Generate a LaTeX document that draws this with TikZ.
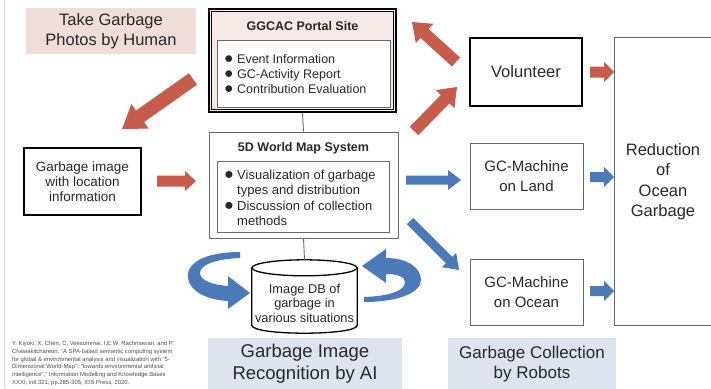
\documentclass[tikz,border=0pt]{standalone}
\usepackage{fontspec}
\setmainfont{Liberation Sans}
\usetikzlibrary{calc}
\definecolor{redarr}{RGB}{199,92,76}
\definecolor{bluearr}{RGB}{74,122,184}
\definecolor{pinkbg}{RGB}{238,221,217}
\definecolor{portalbg}{RGB}{244,233,231}
\definecolor{bluebg}{RGB}{221,228,240}
\definecolor{boxgray}{RGB}{105,105,105}
\definecolor{txt}{RGB}{40,40,40}
\newcommand\blockarrow[6]{%
  \coordinate (ba-c) at ($(#3)!#6!(#2)$);
  \fill[#1] ($(#2)!#4!90:(#3)$) -- ($(ba-c)!#4!90:(#3)$) -- ($(ba-c)!#5!90:(#3)$) -- (#3)
    -- ($(ba-c)!#5!-90:(#3)$) -- ($(ba-c)!#4!-90:(#3)$) -- ($(#2)!#4!-90:(#3)$) -- cycle;
}
\newcommand\bul{\makebox[13pt][l]{\raisebox{-0.4pt}{\scalebox{1.25}{●}}}}
\begin{document}
\begin{tikzpicture}[x=1pt,y=-1pt,
  every node/.style={inner sep=0pt, text=txt},
  plainbox/.style={draw=boxgray, line width=0.9pt, fill=white},
  blackbox/.style={draw=black, line width=2pt, fill=white},
  innerbox/.style={draw=boxgray, line width=0.8pt, fill=white},
  linkline/.style={draw=boxgray, line width=0.9pt},
  cyl/.style={draw=black, line width=1.3pt, fill=white},
  fbig/.style={font=\fontsize{16.5}{20}\selectfont},
  fmid/.style={font=\fontsize{15}{20.5}\selectfont},
  ftitle/.style={font=\bfseries\fontsize{12.5}{15}\selectfont}]
\useasboundingbox (0,0) rectangle (711,388);
\fill[white] (0,0) rectangle (711,388);
\draw[black!15, line width=0.8pt] (4,0) -- (4,388);

% top-left label
\node[fill=pinkbg, minimum width=170pt, minimum height=46pt, align=center, fbig] (take) at (111,31) {Take Garbage\\Photos by Human};

% portal
\node[draw=black, line width=2.2pt, fill=portalbg,
  minimum width=187pt, minimum height=103pt] (portal) at (302.5,60.5) {};
\draw[black, line width=0.8pt] ($(portal.north west)+(3.6,3.6)$) rectangle ($(portal.south east)+(-3.6,-3.6)$);
\node[ftitle] (portaltitle) at (302.5,26) {GGCAC Portal Site};
\node[innerbox, minimum width=173pt, minimum height=67pt] (portalin) at (303.5,73.5) {};
\node[anchor=west, align=left, font=\fontsize{12.5}{15}\selectfont] (portallist) at (224,74)
  {\bul Event Information\\\bul GC-Activity Report\\\bul Contribution Evaluation};

% 5D world map
\node[plainbox, minimum width=189pt, minimum height=106pt] (fived) at (303.5,185) {};
\node[ftitle] (fivedtitle) at (303.5,148) {5D World Map System};
\node[innerbox, minimum width=172pt, minimum height=71pt] (fivedin) at (303,196.5) {};
\node[anchor=west, align=left, font=\fontsize{13}{15.5}\selectfont] (fivedlist) at (224,198)
  {\bul Visualization of garbage\\\hspace*{13pt}types and distribution\\\bul Discussion of collection\\\hspace*{13pt}methods};

% garbage image
\node[blackbox, minimum width=117pt, minimum height=67pt, align=center, font=\fontsize{13.5}{15}\selectfont] (garb) at (82.5,181.5) {Garbage image\\with location\\information};

% right column
\node[blackbox, minimum width=112pt, minimum height=68pt, fbig] (vol) at (526,72) {Volunteer};
\node[plainbox, minimum width=113pt, minimum height=66pt, align=center, fmid] (land) at (526.5,176) {GC-Machine\\on Land};
\node[plainbox, minimum width=113pt, minimum height=66pt, align=center, fmid] (ocean) at (526.5,292) {GC-Machine\\on Ocean};
\node[minimum width=96pt, minimum height=287pt, align=center, font=\fontsize{16.5}{20.5}\selectfont] (reduc) at (663,181.5) {Reduction\\of\\Ocean\\Garbage};
\draw[boxgray, line width=0.9pt] (reduc.north east) -- (reduc.north west) -- (reduc.south west) -- (reduc.south east);

% database cylinder
\node[minimum width=105pt, minimum height=73pt] (db) at (304.5,296.5) {};
\path (db.north west) ++(0,8) coordinate (cnw)
      (db.north east) ++(0,8) coordinate (cne)
      (db.south west) ++(0,-8) coordinate (csw)
      (db.south east) ++(0,-8) coordinate (cse)
      (db.north) ++(0,8) coordinate (ctop);
\draw[cyl] (cnw) -- (csw) .. controls ($(csw)+(0,10.67)$) and ($(cse)+(0,10.67)$) .. (cse) -- (cne) -- cycle;
\draw[cyl] (ctop) ellipse [x radius=52.5, y radius=8];
\node[align=center, font=\fontsize{12.8}{14.5}\selectfont] (dbtext) at (304.5,303) {Image DB of\\garbage in\\various situations};

% connecting lines
\draw[linkline] (portal.south) -- (fived.north);
\draw[linkline] (fived.south) -- (db.north);

% bottom labels
\node[fill=bluebg, minimum width=194pt, minimum height=52pt, align=center, font=\fontsize{18.5}{22}\selectfont] (ai) at (305,364) {Garbage Image\\Recognition by AI};
\node[fill=bluebg, minimum width=168pt, minimum height=52pt, align=center, font=\fontsize{17}{20}\selectfont] (robots) at (532,364) {Garbage Collection\\by Robots};

% reference
\node[anchor=north west, align=left, font=\fontsize{5.9}{7.8}\selectfont, text=black!70] (refs) at (12,341)
  {Y. Kiyoki, X. Chen, C. Veesommai, I.E.W. Rachmawan, and P.\\
   Chawakitchareon, ``A SPA-based semantic computing system\\
   for global \& environmental analysis and visualization with ``5-\\
   Dimensional World-Map'': ``towards environmental artificial\\
   intelligence'','' Information Modelling and Knowledge Bases\\
   XXXI, vol.321, pp.285-305, IOS Press, 2020.};

% red arrows
\coordinate (r1a) at (193,79);  \coordinate (r1b) at (122,129);
\coordinate (r2a) at (157,181); \coordinate (r2b) at (196,181);
\coordinate (r3a) at (456,62);  \coordinate (r3b) at (412,22);
\coordinate (r4a) at (414,131); \coordinate (r4b) at (457,87);
\coordinate (r5a) at (590,72);  \coordinate (r5b) at (614,72);
\blockarrow{redarr}{r1a}{r1b}{7pt}{15pt}{22pt}
\blockarrow{redarr}{r2a}{r2b}{5.5pt}{10pt}{11pt}
\blockarrow{redarr}{r3a}{r3b}{6pt}{13pt}{17pt}
\blockarrow{redarr}{r4a}{r4b}{6pt}{13pt}{17pt}
\blockarrow{redarr}{r5a}{r5b}{5.5pt}{10pt}{10pt}

% blue arrows
\coordinate (b1a) at (406,180); \coordinate (b1b) at (461,180);
\coordinate (b2a) at (590,177); \coordinate (b2b) at (614,177);
\coordinate (b3a) at (410,221); \coordinate (b3b) at (459,270);
\coordinate (b4a) at (590,291); \coordinate (b4b) at (614,291);
\blockarrow{bluearr}{b1a}{b1b}{4.5pt}{10pt}{13pt}
\blockarrow{bluearr}{b2a}{b2b}{5pt}{10pt}{10pt}
\blockarrow{bluearr}{b3a}{b3b}{4.5pt}{10pt}{14pt}
\blockarrow{bluearr}{b4a}{b4b}{5pt}{10pt}{10pt}

% curved ribbon arrows
\fill[bluearr] (240,252) .. controls (205,252) and (186,263) .. (188,278)
  .. controls (190,292) and (208,300) .. (228,301) -- (228,309) -- (250,293) -- (228,276) -- (228,286)
  .. controls (212,285) and (200,280) .. (200,273) .. controls (200,265) and (215,259) .. (240,258) -- cycle;
\fill[bluearr] (386,258) .. controls (408,258) and (421,268) .. (421,280)
  .. controls (421,292) and (400,302) .. (364,302) -- (364,297)
  .. controls (392,296) and (405,290) .. (405,282) .. controls (405,277) and (398,274) .. (386,274)
  -- (386,283) -- (362,266) -- (386,249) -- cycle;
\end{tikzpicture}
\end{document}
